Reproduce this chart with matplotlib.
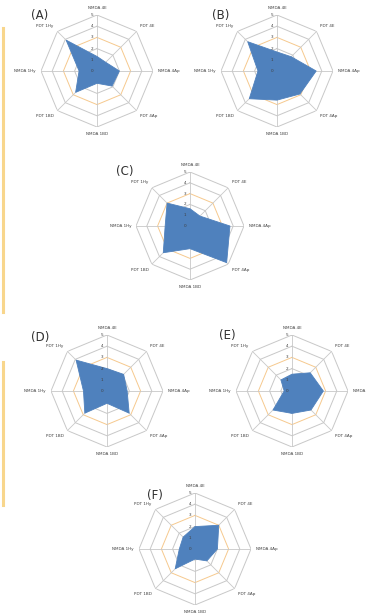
import numpy as np
import matplotlib
matplotlib.use("Agg")
import matplotlib.pyplot as plt
from matplotlib.lines import Line2D

# spoke labels, clockwise from the top
spokes = ["NMDA 4E", "PDT 4E", "NMDA 4Ap", "PDT 4Ap",
          "NMDA 1BD", "PDT 1BD", "NMDA 1Hy", "PDT 1Hy"]
ring_levels = [1, 2, 3, 4, 5]
tick_labels = ["0", "1", "2", "3", "4", "5"]

scores_a = [1.3, 1.1, 2.0, 1.9, 1.1, 2.7, 1.6, 3.9]
scores_b = [1.7, 1.8, 3.5, 2.9, 2.6, 3.5, 1.7, 3.7]
scores_c = [1.6, 1.3, 3.7, 4.8, 2.1, 3.5, 2.3, 3.0]
scores_d = [2.0, 2.1, 1.8, 2.8, 1.1, 2.8, 2.1, 3.9]
scores_e = [1.5, 2.3, 2.8, 2.4, 2.0, 2.4, 0.7, 1.4]
scores_f = [2.0, 3.0, 2.0, 1.5, 0.9, 2.5, 1.4, 1.5]

W, H = 366, 614
fig = plt.figure(figsize=(W / 100, H / 100), dpi=100)
fig.patch.set_facecolor("white")

# panel centres and radii in pixels, plus where the panel tag goes
panels = [
    ("(A)", scores_a, (97, 71), 56, (31, 16)),
    ("(B)", scores_b, (277, 71), 56, (212, 16)),
    ("(C)", scores_c, (190, 226), 54, (116, 172)),
    ("(D)", scores_d, (107, 391), 56, (31, 338)),
    ("(E)", scores_e, (292, 391), 56, (219, 335)),
    ("(F)", scores_f, (195, 549), 56, (147, 495)),
]

theta = np.linspace(0, 2 * np.pi, len(spokes), endpoint=False)
closed = np.append(theta, theta[0])
fill_col = "#4f81bd"
grid_col = "#c8c8c8"

for tag, vals, (cx, cy), r, (tx, ty) in panels:
    ax = fig.add_axes([(cx - r) / W, 1 - (cy + r) / H, 2 * r / W, 2 * r / H],
                      projection="polar")
    ax.set_theta_zero_location("N")
    ax.set_theta_direction(-1)
    ax.set_ylim(0, 5)
    ax.axis("off")

    for lv in ring_levels:
        col = "#f6c98e" if lv == 3 else grid_col
        ax.plot(closed, [lv] * len(closed), color=col, lw=0.7, zorder=1)
    for t in theta:
        ax.plot([t, t], [0, 5], color=grid_col, lw=0.6, zorder=1)

    v = np.append(vals, vals[0])
    ax.fill(closed, v, color=fill_col, lw=0.6, zorder=2)

    for i, lab in enumerate(tick_labels):
        ax.annotate(lab, (0, i), xytext=(-2.5, 0), textcoords="offset points",
                    ha="right", va="center", fontsize=3, color="#404040",
                    zorder=3, annotation_clip=False)

    for t, lab in zip(theta, spokes):
        s, c = np.sin(t), np.cos(t)
        ha = "center" if abs(s) < 0.1 else ("left" if s > 0 else "right")
        va = "center" if abs(c) < 0.1 else ("bottom" if c > 0 else "top")
        ax.text(t, 5.45, lab, ha=ha, va=va, fontsize=3, color="#404040")

    fig.text(tx / W, 1 - ty / H, tag, ha="left", va="center",
             fontsize=8.5, color="#303030")

# thin highlight bars down the left edge
for y0, y1 in [(28, 312), (362, 505)]:
    fig.add_artist(Line2D([3 / W, 3 / W], [1 - y0 / H, 1 - y1 / H],
                          color="#f8d68c", lw=2.2))

fig.savefig("out.png", dpi=100, facecolor="white")
